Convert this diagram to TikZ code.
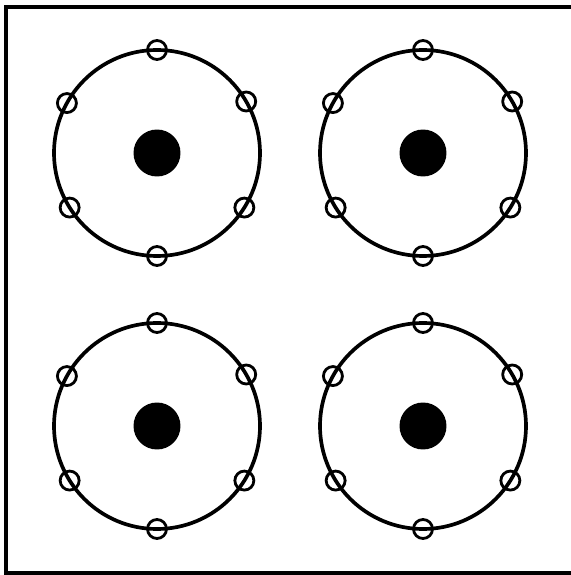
\documentclass[tikz,border=0pt]{standalone}
\usetikzlibrary{positioning,calc}
\tikzset{
  nucleus/.style={circle,fill=black,minimum size=0.94cm,inner sep=0pt},
  electron/.style={circle,draw=black,line width=1.6pt,minimum size=0.38cm,inner sep=0pt},
  orbit/.style={draw=black,line width=2.1pt},
  frame/.style={draw=black,line width=2.4pt}
}

\begin{document}
\begin{tikzpicture}[x=0.02cm,y=0.02cm]
  \clip (0,0) rectangle (571,575);
  \draw[frame] (6,2) rectangle (590,568);
  % four atoms, six electrons each
  \foreach \ax/\ay/\nm in {157/422/a, 423/422/b, 157/149/c, 423/149/d} {
    \node[nucleus] (nuc\nm) at (\ax,\ay) {};
    \draw[orbit] (nuc\nm.center) circle[radius=103];
    \foreach \ang/\k in {90/1,30/2,151/3,212/4,328/5,270/6}
      \node[electron] (e\nm\k) at ($(nuc\nm.center)+(\ang:103)$) {};
  }
\end{tikzpicture}
\end{document}
